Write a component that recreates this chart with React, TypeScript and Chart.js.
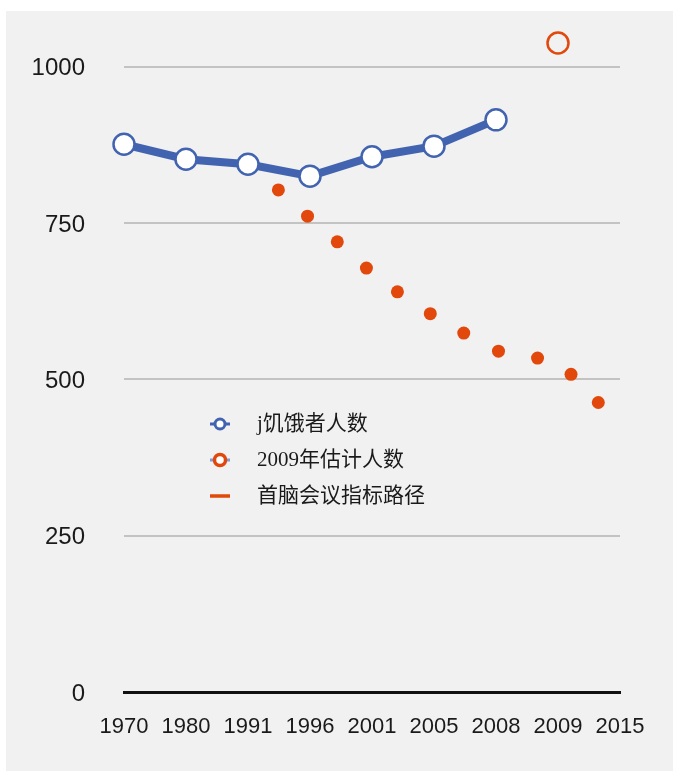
import React, { useEffect, useRef } from 'react';
import { Chart, registerables } from 'chart.js';

Chart.register(...registerables);

// ---- Data ----
const yearLabels = ['1970', '1980', '1991', '1996', '2001', '2005', '2008', '2009', '2015'];
const hungryPeople = [876, 852, 844, 825, 856, 873, 915];
const estimate2009Index = 7;
const estimate2009Value = 1038;
// summit target path: positions along the category axis (index units) and values
const summitPathPos = [2.49, 2.96, 3.44, 3.91, 4.41, 4.94, 5.48, 6.04, 6.67, 7.21, 7.65];
const summitPathValues = [803, 761, 720, 678, 640, 605, 574, 545, 534, 508, 463];
const yTicks = [0, 250, 500, 750, 1000];
const legendLabels = ['j饥饿者人数', '2009年估计人数', '首脑会议指标路径'];

const BLUE = '#4264b0';
const ORANGE = '#e2470b';
const TEXT = '#1a1a1a';

const legendPlugin = {
  id: 'customLegend',
  afterDraw(chart: any) {
    const ctx = chart.ctx as CanvasRenderingContext2D;
    ctx.save();
    const mx = 220;
    const rows = [424, 460, 496];
    // item 1
    ctx.lineCap = 'butt';
    ctx.strokeStyle = BLUE;
    ctx.lineWidth = 3;
    ctx.beginPath();
    ctx.moveTo(mx - 10, rows[0]);
    ctx.lineTo(mx + 10, rows[0]);
    ctx.stroke();
    ctx.beginPath();
    ctx.arc(mx, rows[0], 5, 0, Math.PI * 2);
    ctx.fillStyle = '#ffffff';
    ctx.fill();
    ctx.stroke();
    // item 2
    ctx.strokeStyle = '#7d9bd6';
    ctx.lineWidth = 3;
    ctx.beginPath();
    ctx.moveTo(mx - 10, rows[1]);
    ctx.lineTo(mx + 10, rows[1]);
    ctx.stroke();
    ctx.beginPath();
    ctx.arc(mx, rows[1], 5.5, 0, Math.PI * 2);
    ctx.fillStyle = '#ffffff';
    ctx.fill();
    ctx.strokeStyle = ORANGE;
    ctx.lineWidth = 3.5;
    ctx.stroke();
    // item 3
    ctx.strokeStyle = ORANGE;
    ctx.lineWidth = 3.5;
    ctx.beginPath();
    ctx.moveTo(mx - 10, rows[2]);
    ctx.lineTo(mx + 10, rows[2]);
    ctx.stroke();
    // text
    ctx.fillStyle = TEXT;
    ctx.font = '21px "Liberation Serif", "Noto Sans CJK SC", serif';
    ctx.textBaseline = 'middle';
    ctx.textAlign = 'left';
    legendLabels.forEach((t, i) => ctx.fillText(t, 257, rows[i]));
    ctx.restore();
  },
};

export default function App() {
  const canvasRef = useRef<HTMLCanvasElement | null>(null);

  useEffect(() => {
    if (!canvasRef.current) return;
    const chart = new Chart(canvasRef.current, {
      type: 'line',
      data: {
        datasets: [
          {
            label: legendLabels[0],
            data: hungryPeople.map((v, i) => ({ x: i, y: v })),
            borderColor: BLUE,
            borderWidth: 8,
            pointRadius: 10.5,
            pointBorderWidth: 2.5,
            pointBackgroundColor: '#ffffff',
            pointBorderColor: BLUE,
            showLine: true,
            clip: false as any,
            order: 1,
          },
          {
            label: legendLabels[1],
            data: [{ x: estimate2009Index, y: estimate2009Value }],
            showLine: false,
            pointRadius: 10.5,
            pointBorderWidth: 2.5,
            pointBackgroundColor: 'rgba(0,0,0,0)',
            pointBorderColor: ORANGE,
            clip: false as any,
            order: 2,
          },
          {
            label: legendLabels[2],
            data: summitPathPos.map((p, i) => ({ x: p, y: summitPathValues[i] })),
            showLine: false,
            pointRadius: 6.5,
            pointBorderWidth: 0,
            pointBackgroundColor: ORANGE,
            pointBorderColor: ORANGE,
            clip: false as any,
            order: 3,
          },
        ],
      },
      options: {
        responsive: false,
        animation: false,
        events: [],
        layout: { padding: { left: 0, right: 53, top: 29.2, bottom: 0 } },
        plugins: {
          legend: { display: false },
          tooltip: { enabled: false },
        },
        scales: {
          x: {
            type: 'linear',
            min: 0,
            max: yearLabels.length - 1,
            afterFit: (s: any) => {
              s.height = 79;
            },
            afterBuildTicks: (s: any) => {
              s.ticks = yearLabels.map((_, i) => ({ value: i }));
            },
            ticks: {
              autoSkip: false,
              maxRotation: 0,
              padding: 22,
              color: TEXT,
              font: { family: '"Liberation Sans", Arial, Helvetica, sans-serif', size: 22 },
              callback: (v: any) => yearLabels[v as number] ?? '',
            },
            grid: { display: false, drawTicks: false },
            border: { display: true, color: '#111111', width: 3 },
          },
          y: {
            type: 'linear',
            min: 0,
            max: 1060,
            afterFit: (s: any) => {
              s.width = 124;
            },
            afterBuildTicks: (s: any) => {
              s.ticks = yTicks.map((v) => ({ value: v }));
            },
            ticks: {
              padding: 0,
              labelOffset: 2,
              color: TEXT,
              font: { family: '"Liberation Sans", Arial, Helvetica, sans-serif', size: 24 },
              callback: (v: any) => String(v),
            },
            grid: {
              color: '#c3c3c3',
              lineWidth: 2,
              drawTicks: true,
              tickLength: 39,
              tickColor: 'rgba(0,0,0,0)',
            },
            border: { display: false },
          },
        },
      },
      plugins: [legendPlugin],
    } as any);
    return () => chart.destroy();
  }, []);

  return (
    <div style={{ position: 'absolute', left: 0, top: 0, width: 673, height: 771, background: '#ffffff', overflow: 'hidden' }}>
      <div style={{ position: 'absolute', left: 6, top: 11, width: 667, height: 760, background: '#f0f1f0' }} />
      <canvas ref={canvasRef} width={673} height={771} style={{ position: 'absolute', left: 0, top: 0, width: 673, height: 771 }} />
    </div>
  );
}
